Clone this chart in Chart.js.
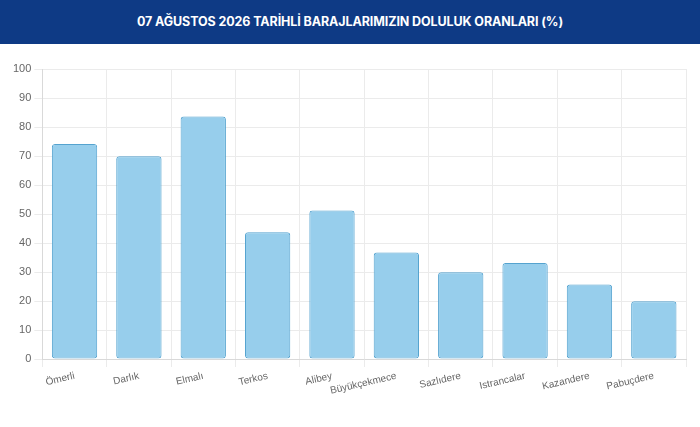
<!DOCTYPE html>
<html>
<head>
<meta charset="utf-8">
<script src="https://cdn.jsdelivr.net/npm/chart.js@4"></script>
<style>
    body { margin: 0; background: #fff; font-family: "Liberation Sans", Arial, sans-serif; }
    .header {
        height: 44px;
        background: #0e3a85;
        color: #fff;
        font-family: Inter, "Noto Sans", sans-serif;
        font-weight: 700;
        font-size: 12.5px;
        line-height: 44px;
        text-align: center;
        letter-spacing: -0.1px;
    }
    .wrap { position: absolute; left: 0; top: 44px; width: 700px; height: 356px; }
</style>
</head>
<body>
<div class="header">07 AĞUSTOS 2026 TARİHLİ BARAJLARIMIZIN DOLULUK ORANLARI (%)</div>
<div class="wrap"><canvas id="chart"></canvas></div>
<script>
// baraj isimleri ve doluluk oranlari
const barajlar = ['Ömerli', 'Darlık', 'Elmalı', 'Terkos', 'Alibey', 'Büyükçekmece', 'Sazlıdere', 'Istrancalar', 'Kazandere', 'Pabuçdere'];
const doluluk = [74.1, 69.9, 83.6, 43.7, 51.2, 36.7, 29.9, 33.1, 25.7, 19.9];
const yTicks = [0, 10, 20, 30, 40, 50, 60, 70, 80, 90, 100];

const ctx = document.getElementById('chart').getContext('2d');
new Chart(ctx, {
    type: 'bar',
    data: {
        labels: barajlar,
        datasets: [{
            data: doluluk,
            backgroundColor: '#97ceec',
            borderColor: '#55a3cf',
            borderWidth: 1,
            borderRadius: 3,
            borderSkipped: false,
            barPercentage: 0.88,
            categoryPercentage: 0.8
        }]
    },
    options: {
        responsive: true,
        maintainAspectRatio: false,
        animation: false,
        layout: { padding: { top: 25, left: 10, right: 14, bottom: 0 } },
        plugins: { legend: { display: false }, tooltip: { enabled: false } },
        scales: {
            x: {
                grid: { color: '#ebebeb', offset: true },
                border: { color: '#d9d9d9' },
                ticks: {
                    color: '#666',
                    font: { size: 10, family: '"Liberation Sans", Arial, sans-serif' },
                    minRotation: 13,
                    maxRotation: 13,
                    autoSkip: false
                }
            },
            y: {
                min: 0,
                max: 100,
                afterBuildTicks: axis => { axis.ticks = yTicks.map(v => ({ value: v })); },
                grid: { color: '#ebebeb' },
                border: { color: '#d9d9d9' },
                ticks: {
                    color: '#666',
                    font: { size: 11, family: '"Liberation Sans", Arial, sans-serif' }
                }
            }
        }
    }
});
</script>
</body>
</html>
